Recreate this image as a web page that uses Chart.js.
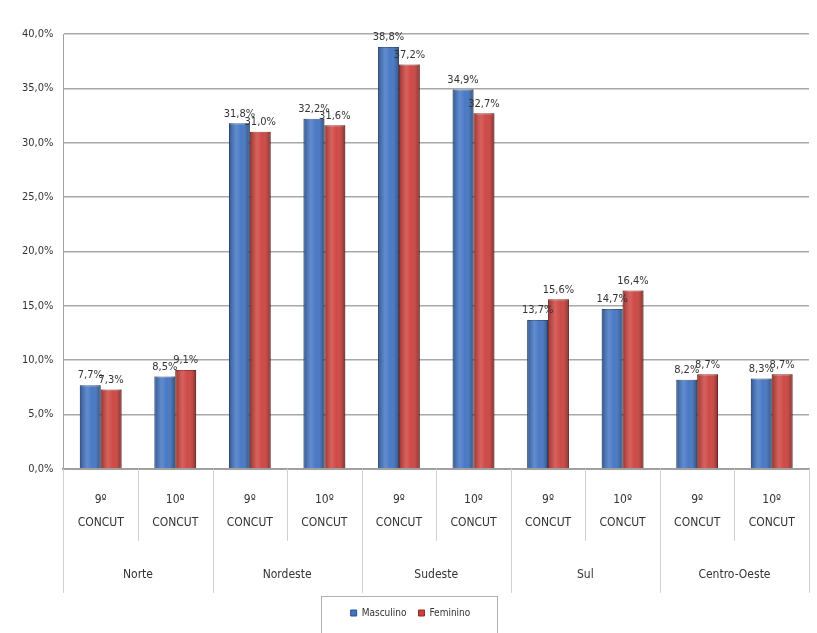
<!DOCTYPE html>
<html>
<head>
<meta charset="utf-8">
<script src="https://cdn.jsdelivr.net/npm/chart.js@4.4.1/dist/chart.umd.min.js"></script>
<style>
  body { margin: 0; background: #fff; }
  #wrap { width: 817px; height: 633px; }
</style>
</head>
<body>
<div id="wrap"><canvas id="chart" width="817" height="633"></canvas></div>
<script>
// values (percent)
var regions = ['Norte', 'Nordeste', 'Sudeste', 'Sul', 'Centro-Oeste'];
var editions = [['9º', 'CONCUT'], ['10º', 'CONCUT']];
var masculino = [7.7, 8.5, 31.8, 32.2, 38.8, 34.9, 13.7, 14.7, 8.2, 8.3];
var feminino  = [7.3, 9.1, 31.0, 31.6, 37.2, 32.7, 15.6, 16.4, 8.7, 8.7];
var seriesNames = ['Masculino', 'Feminino'];

var labels = [];
regions.forEach(function () {
    editions.forEach(function (e) { labels.push(e); });
});

var fontFam = "'DejaVu Sans Condensed', 'Liberation Sans Narrow', Arial, sans-serif";

function pct(v) {
    return v.toFixed(1).replace('.', ',') + '%';
}

// value labels above each bar
var valueLabels = {
    id: 'valueLabels',
    afterDatasetsDraw: function (chart) {
        var ctx = chart.ctx;
        ctx.save();
        ctx.font = '11px ' + fontFam;
        ctx.fillStyle = '#333';
        ctx.textAlign = 'center';
        ctx.textBaseline = 'bottom';
        chart.data.datasets.forEach(function (ds, di) {
            chart.getDatasetMeta(di).data.forEach(function (bar, i) {
                ctx.fillText(pct(ds.data[i]), bar.x, bar.y - 4);
            });
        });
        ctx.restore();
    }
};

// cylinder-ish shading on bars
var barShade = {
    id: 'barShade',
    afterDatasetsDraw: function (chart) {
        var ctx = chart.ctx;
        ctx.save();
        chart.data.datasets.forEach(function (ds, di) {
            chart.getDatasetMeta(di).data.forEach(function (bar) {
                var l = bar.x - bar.width / 2, r = bar.x + bar.width / 2;
                var g = ctx.createLinearGradient(l, 0, r, 0);
                g.addColorStop(0, 'rgba(0,0,0,0.25)');
                g.addColorStop(0.35, 'rgba(255,255,255,0.18)');
                g.addColorStop(0.6, 'rgba(255,255,255,0.05)');
                g.addColorStop(1, 'rgba(0,0,0,0.35)');
                ctx.fillStyle = g;
                ctx.fillRect(l, bar.y, bar.width, bar.base - bar.y);
            });
        });
        ctx.restore();
    }
};

// table style separators under the category axis + legend frame
var axisTable = {
    id: 'axisTable',
    afterDraw: function (chart) {
        var ctx = chart.ctx;
        var x = chart.scales.x;
        var ca = chart.chartArea;
        var n = labels.length;
        var step = (x.right - x.left) / n;
        ctx.save();
        ctx.strokeStyle = '#d0d0d0';
        ctx.lineWidth = 1;
        for (var i = 0; i <= n; i++) {
            var px = Math.round(x.left + step * i) + 0.5;
            var bottom = (i % 2 === 0) ? ca.bottom + 124 : ca.bottom + 72;
            ctx.beginPath();
            ctx.moveTo(px, ca.bottom);
            ctx.lineTo(px, bottom);
            ctx.stroke();
        }
        var lg = chart.legend;
        var bw = 176;
        var bx = Math.round((chart.width - bw) / 2) + 0.5;
        ctx.strokeStyle = '#b0b0b0';
        ctx.strokeRect(bx, lg.top + 0.5, bw, 40);
        ctx.restore();
    }
};

new Chart(document.getElementById('chart'), {
    type: 'bar',
    data: {
        labels: labels,
        datasets: [{
            label: seriesNames[0],
            data: masculino,
            backgroundColor: '#3f72c2',
            borderColor: '#2b4f8a',
            borderWidth: 1
        }, {
            label: seriesNames[1],
            data: feminino,
            backgroundColor: '#cc3f3b',
            borderColor: '#8e2b28',
            borderWidth: 1
        }]
    },
    options: {
        responsive: false,
        animation: false,
        layout: { padding: { left: 12, right: 8, top: 34, bottom: 5 } },
        datasets: { bar: { categoryPercentage: 0.56, barPercentage: 1.0 } },
        scales: {
            x: {
                grid: { display: false },
                border: { color: '#a0a0a0', width: 2 },
                ticks: {
                    padding: 11,
                    maxRotation: 0,
                    autoSkip: false,
                    color: '#333',
                    font: { family: fontFam, size: 12, lineHeight: 1.95 }
                }
            },
            x2: {
                type: 'category',
                labels: regions,
                offset: true,
                grid: { display: false },
                border: { display: false },
                ticks: {
                    padding: 9,
                    color: '#333',
                    font: { family: fontFam, size: 12, lineHeight: 2.03 }
                }
            },
            y: {
                min: 0,
                max: 40,
                ticks: {
                    stepSize: 5,
                    padding: 10,
                    color: '#333',
                    font: { family: fontFam, size: 11 },
                    callback: function (v) { return pct(v); }
                },
                grid: { color: '#a8a8a8', lineWidth: 1.5, drawTicks: false },
                border: { color: '#a0a0a0' }
            }
        },
        plugins: {
            legend: {
                position: 'bottom',
                labels: {
                    boxWidth: 6,
                    boxHeight: 6,
                    padding: 12,
                    color: '#333',
                    font: { family: fontFam, size: 10 }
                }
            },
            tooltip: { enabled: false }
        }
    },
    plugins: [barShade, valueLabels, axisTable]
});
</script>
</body>
</html>
